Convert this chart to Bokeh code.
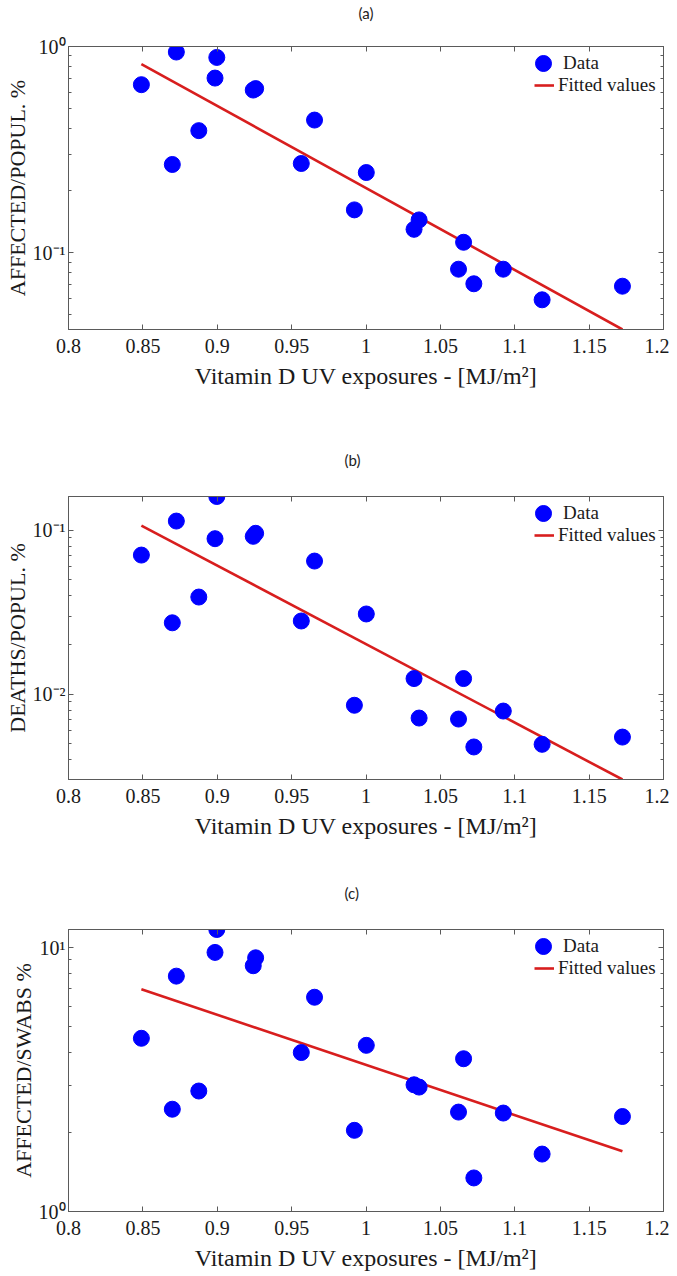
from bokeh.plotting import figure
from bokeh.layouts import column
from bokeh.models import (LogAxis, LinearAxis, FixedTicker, Range1d, Legend, LegendItem,
                          CustomJSTickFormatter)
from bokeh.embed import file_html
from bokeh.resources import INLINE

# ---------------- data ----------------
uv = [0.849, 0.8698, 0.8725, 0.8876, 0.8985, 0.8997, 0.9242, 0.9258, 0.9565, 0.9654,
      0.9922, 1.0002, 1.0323, 1.0357, 1.0622, 1.0656, 1.0725, 1.0923, 1.1184, 1.1724]

affected_popul = [0.653, 0.268, 0.94, 0.391, 0.703, 0.885, 0.615, 0.625, 0.271, 0.44,
                  0.1615, 0.245, 0.130, 0.1444, 0.0833, 0.1125, 0.0708, 0.0833, 0.0592, 0.0689]

deaths_popul = [0.0707, 0.0273, 0.114, 0.0392, 0.089, 0.161, 0.092, 0.096, 0.028, 0.065,
                0.00857, 0.0309, 0.01247, 0.00716, 0.00706, 0.01247, 0.00477, 0.0079, 0.00495, 0.00548]

affected_swabs = [4.53, 2.44, 7.79, 2.86, 9.58, 11.7, 8.53, 9.14, 4.0, 6.48,
                  2.03, 4.26, 3.02, 2.96, 2.38, 3.79, 1.34, 2.36, 1.65, 2.29]

fit_x = [0.849, 1.1724]
fit_a = [0.822, 0.0425]
fit_b = [0.107, 0.00302]
fit_c = [6.95, 1.69]

x_ticks = [0.8, 0.85, 0.9, 0.95, 1.0, 1.05, 1.1, 1.15, 1.2]
panel_titles = ["(a)", "(b)", "(c)"]
y_labels = ["AFFECTED/POPUL. %", "DEATHS/POPUL. %", "AFFECTED/SWABS %"]
x_label = "Vitamin D UV exposures - [MJ/m\u00b2]"
legend_labels = ["Data", "Fitted values"]

SERIF = "Liberation Serif"
AX = "#5a5a5a"
TXT = "#1a1a1a"
TITLE_FONT = "Lato"

y_fmt = CustomJSTickFormatter(code="""
const e = Math.round(Math.log10(tick));
const sup = {'-':'\u207b','0':'\u2070','1':'\u00b9','2':'\u00b2','3':'\u00b3'};
return '10' + String(e).split('').map(c => sup[c]).join('');
""")
x_fmt = CustomJSTickFormatter(code="return String(parseFloat(tick.toFixed(2)));")


def minor_list(decades):
    out = []
    for d in range(decades[0] - 1, decades[1] + 1):
        for m in range(2, 10):
            out.append(m * 10.0 ** d)
    return out


FRAME_LEFT = 68


def panel(title, ylabel, yvals, fitvals, ylo, yhi, major, dec_span, height, btop, fh, mode, toff):
    bbot = height - btop - fh
    p = figure(width=669, height=height, x_range=Range1d(0.8, 1.2), y_range=Range1d(ylo, yhi),
               y_axis_type="log", output_backend="svg", toolbar_location=None,
               title=(title if mode == "title" else None),
               min_border_left=FRAME_LEFT, min_border_right=6, min_border_top=btop,
               min_border_bottom=bbot)
    p.xgrid.visible = False
    p.ygrid.visible = False
    p.outline_line_color = AX
    p.outline_line_width = 1
    p.background_fill_color = "white"

    yt = FixedTicker(ticks=major, minor_ticks=minor_list(dec_span))
    xt = FixedTicker(ticks=x_ticks)

    xa = p.xaxis[0]
    xa.ticker = xt
    xa.formatter = x_fmt
    xa.axis_label = x_label
    ya = p.yaxis[0]
    ya.ticker = yt
    ya.formatter = y_fmt
    ya.axis_label = ylabel

    for ax in (xa, ya):
        ax.axis_line_color = AX
        ax.major_tick_line_color = AX
        ax.minor_tick_line_color = AX
        ax.major_tick_in = 5
        ax.major_tick_out = 0
        ax.minor_tick_in = 3
        ax.minor_tick_out = 0
        ax.major_label_text_font = SERIF
        ax.major_label_text_font_size = "20px"
        ax.major_label_text_color = TXT
        ax.axis_label_text_font = SERIF
        ax.axis_label_text_font_style = "normal"
        ax.axis_label_text_color = TXT
    xa.axis_label_text_font_size = "24px"
    ya.axis_label_text_font_size = "22px"
    xa.minor_tick_line_color = None
    xa.major_label_standoff = 9
    xa.axis_label_standoff = 7
    ya.major_label_standoff = 3
    ya.axis_label_standoff = 0

    top = LinearAxis(ticker=xt, major_label_text_font_size="1px", major_label_text_color=None,
                     major_label_standoff=0,
                     axis_line_color=AX, major_tick_line_color=AX, minor_tick_line_color=None,
                     major_tick_in=5, major_tick_out=0)
    if mode == "axis":
        top.axis_label = title
        top.axis_label_standoff = 25
        top.axis_label_text_font = TITLE_FONT
        top.axis_label_text_font_size = "15px"
        top.axis_label_text_font_style = "normal"
        top.axis_label_text_color = "#222222"
    right = LogAxis(ticker=yt, major_label_text_font_size="1px", major_label_text_color=None,
                    major_label_standoff=0,
                    axis_line_color=AX, major_tick_line_color=AX, minor_tick_line_color=AX,
                    major_tick_in=5, major_tick_out=0, minor_tick_in=3, minor_tick_out=0)
    p.add_layout(top, "above")
    p.add_layout(right, "right")

    if mode == "title":
        p.title.align = "left"
        p.title.offset = toff
        p.title.standoff = 56
        p.title.text_font = TITLE_FONT
        p.title.text_font_size = "15px"
        p.title.text_font_style = "normal"
        p.title.text_color = "#222222"

    ln = p.line(fit_x, fitvals, line_color="#d81e1e", line_width=2.6)
    sc = p.scatter(uv, yvals, size=16, fill_color="#0000ff", line_color="#0000ff")

    leg_data = Legend(items=[LegendItem(label=legend_labels[0], renderers=[sc])],
                      location=(475 - 20, fh - 37), border_line_alpha=0, background_fill_alpha=0,
                      label_text_font=SERIF, label_text_font_size="19px", label_text_color=TXT,
                      glyph_width=40, glyph_height=40, padding=0, margin=0,
                      label_standoff=-6, label_height=20)
    leg_fit = Legend(items=[LegendItem(label=legend_labels[1], renderers=[ln])],
                     location=(466, fh - 50), border_line_alpha=0, background_fill_alpha=0,
                     label_text_font=SERIF, label_text_font_size="19px", label_text_color=TXT,
                     glyph_width=20, glyph_height=20, padding=0, margin=0,
                     label_standoff=4, label_height=20)
    p.add_layout(leg_data, "center")
    p.add_layout(leg_fit, "center")
    return p


pa = panel(panel_titles[0], y_labels[0], affected_popul, fit_a, 0.0425, 1.0, [0.1, 1.0], (-2, 0),
           420, 46, 283, "axis", 0)
pb = panel(panel_titles[1], y_labels[1], deaths_popul, fit_b, 0.00302, 0.161, [0.01, 0.1], (-3, -1),
           433, 76, 283, "title", 276)
pc = panel(panel_titles[2], y_labels[2], affected_swabs, fit_c, 1.0, 11.7, [1.0, 10.0], (0, 1),
           423, 76, 282, "title", 276)

layout = column(pa, pb, pc, spacing=0)
open("out.html", "w").write(file_html(layout, INLINE))
